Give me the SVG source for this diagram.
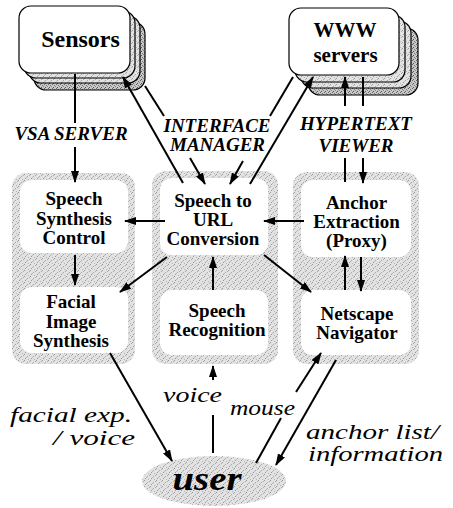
<svg xmlns="http://www.w3.org/2000/svg" width="453" height="508" viewBox="0 0 453 508">
<defs>
<pattern id="stip" width="6" height="6" patternUnits="userSpaceOnUse">
<rect width="6" height="6" fill="#e2e2e2"/>
<rect x="0" y="0" width="1" height="1" fill="#999"/>
<rect x="3" y="2" width="1" height="1" fill="#a8a8a8"/>
<rect x="1" y="4" width="1" height="1" fill="#999"/>
<rect x="4" y="5" width="1" height="1" fill="#b5b5b5"/>
<rect x="5" y="1" width="1" height="1" fill="#aaa"/>
<rect x="2" y="3" width="1" height="1" fill="#bbb"/>
</pattern>
<pattern id="stipd" width="4" height="4" patternUnits="userSpaceOnUse">
<rect width="4" height="4" fill="#c8c8c8"/>
<rect x="0" y="0" width="1" height="1" fill="#666"/>
<rect x="2" y="1" width="1" height="1" fill="#777"/>
<rect x="1" y="3" width="1" height="1" fill="#555"/>
<rect x="3" y="2" width="1" height="1" fill="#888"/>
</pattern>
<marker id="ah" markerUnits="userSpaceOnUse" markerWidth="12" markerHeight="8" refX="11" refY="4" orient="auto">
<path d="M0,0 L12,4 L0,8 Z" fill="#000"/>
</marker>
<style>
text{font-family:'Liberation Serif','Times New Roman',serif}
.node{font-weight:bold;fill:#000;text-anchor:middle}
.lab{font-weight:bold;font-style:italic;font-size:19px;fill:#000;text-anchor:middle}
.it{font-style:italic;font-size:20px;fill:#000}
.panel{fill:url(#stip)}
.box{fill:#fff}
.stk{stroke:#000;stroke-width:1.2}
.c line{stroke:#000;stroke-width:2}
</style>
</defs>
<rect width="453" height="508" fill="#fff"/>

<g id="panels">
<rect class="panel" x="12" y="173" width="123" height="191" rx="14"/>
<rect class="panel" x="152" y="171" width="126" height="193" rx="14"/>
<rect class="panel" x="293" y="172" width="126" height="192" rx="14"/>
</g>

<g id="sensors">
<rect class="stk" x="34" y="22" width="111" height="68" rx="12" fill="url(#stipd)"/>
<rect class="stk" x="29" y="16" width="111" height="67" rx="12" fill="url(#stip)"/>
<rect class="stk" x="24" y="11" width="111" height="67" rx="12" fill="url(#stip)"/>
<rect class="stk" x="19" y="6" width="111" height="67" rx="12" fill="#fff"/>
<text class="node" x="80.5" y="47" font-size="24">Sensors</text>
</g>

<g id="www">
<rect class="stk" x="308" y="28" width="110" height="67" rx="12" fill="url(#stipd)"/>
<rect class="stk" x="301" y="21" width="110" height="67" rx="12" fill="url(#stip)"/>
<rect class="stk" x="295" y="15" width="110" height="67" rx="12" fill="url(#stip)"/>
<rect class="stk" x="289" y="8" width="110" height="67" rx="12" fill="#fff"/>
<text class="node" x="345" y="37" font-size="21">WWW</text>
<text class="node" x="345.5" y="62" font-size="21">servers</text>
</g>

<g id="ssc">
<rect class="box" x="20" y="180" width="108" height="73" rx="12"/>
<text class="node" font-size="19"><tspan x="74" y="205">Speech</tspan><tspan x="74" y="224.5">Synthesis</tspan><tspan x="74" y="244">Control</tspan></text>
</g>

<g id="facial">
<rect class="box" x="20" y="287" width="108" height="66" rx="12"/>
<text class="node" font-size="19"><tspan x="71" y="308">Facial</tspan><tspan x="71" y="327.5">Image</tspan><tspan x="71" y="347">Synthesis</tspan></text>
</g>

<g id="s2url">
<rect class="box" x="160" y="178" width="108" height="77" rx="12"/>
<text class="node" font-size="19"><tspan x="213" y="207">Speech to</tspan><tspan x="213" y="226">URL</tspan><tspan x="213" y="245">Conversion</tspan></text>
</g>

<g id="sr">
<rect class="box" x="160" y="290" width="108" height="65" rx="12"/>
<text class="node" font-size="19"><tspan x="217" y="317">Speech</tspan><tspan x="217" y="336">Recognition</tspan></text>
</g>

<g id="anchor">
<rect class="box" x="301" y="180" width="110" height="77" rx="12"/>
<text class="node" font-size="19"><tspan x="356.5" y="209">Anchor</tspan><tspan x="356.5" y="228">Extraction</tspan><tspan x="356.5" y="247">(Proxy)</tspan></text>
</g>

<g id="netscape">
<rect class="box" x="301" y="290" width="110" height="65" rx="12"/>
<text class="node" font-size="19"><tspan x="357" y="320">Netscape</tspan><tspan x="357" y="339">Navigator</tspan></text>
</g>

<g id="user">
<ellipse cx="214" cy="481" rx="72" ry="25" fill="url(#stip)"/>
<text x="207" y="490" font-weight="bold" font-style="italic" font-size="34" text-anchor="middle" textLength="69" lengthAdjust="spacingAndGlyphs">user</text>
</g>

<g id="connectors" class="c">
<line x1="75" y1="74" x2="75" y2="123"/>
<line x1="75" y1="147" x2="75" y2="182" marker-end="url(#ah)"/>
<line x1="183" y1="183" x2="123" y2="77" marker-end="url(#ah)"/>
<line x1="145" y1="86" x2="164" y2="116"/>
<line x1="190" y1="158" x2="205" y2="184" marker-end="url(#ah)"/>
<line x1="293" y1="77" x2="270" y2="116"/>
<line x1="243" y1="161" x2="230" y2="184" marker-end="url(#ah)"/>
<line x1="250" y1="184" x2="313" y2="77" marker-end="url(#ah)"/>
<line x1="345" y1="182" x2="345" y2="158"/>
<line x1="345" y1="106" x2="345" y2="77" marker-end="url(#ah)"/>
<line x1="363" y1="77" x2="363" y2="106"/>
<line x1="363" y1="158" x2="363" y2="183" marker-end="url(#ah)"/>
<line x1="165" y1="221" x2="125" y2="221" marker-end="url(#ah)"/>
<line x1="75" y1="255" x2="75" y2="285" marker-end="url(#ah)"/>
<line x1="167" y1="257" x2="120" y2="292" marker-end="url(#ah)"/>
<line x1="213" y1="290" x2="213" y2="257" marker-end="url(#ah)"/>
<line x1="304" y1="221" x2="264" y2="221" marker-end="url(#ah)"/>
<line x1="264" y1="255" x2="311" y2="292" marker-end="url(#ah)"/>
<line x1="345" y1="290" x2="345" y2="256" marker-end="url(#ah)"/>
<line x1="361" y1="257" x2="361" y2="291" marker-end="url(#ah)"/>
<line x1="110" y1="353" x2="172" y2="461" marker-end="url(#ah)"/>
<line x1="213" y1="453" x2="213" y2="415"/>
<line x1="213" y1="380" x2="213" y2="366" marker-end="url(#ah)"/>
<line x1="256" y1="463" x2="281" y2="418"/>
<line x1="296" y1="392" x2="321" y2="353" marker-end="url(#ah)"/>
<line x1="336" y1="360" x2="276" y2="465" marker-end="url(#ah)"/>
</g>

<g id="labels">
<text class="lab" x="71" y="140">VSA SERVER</text>
<text class="lab" x="217" y="132">INTERFACE</text>
<text class="lab" x="217.5" y="151">MANAGER</text>
<text class="lab" x="356" y="130">HYPERTEXT</text>
<text class="lab" x="356" y="152">VIEWER</text>
<text class="it" x="10" y="422" textLength="122" lengthAdjust="spacingAndGlyphs">facial exp.</text>
<text class="it" x="53" y="445" textLength="82" lengthAdjust="spacingAndGlyphs">/ voice</text>
<text class="it" x="163" y="402" textLength="59" lengthAdjust="spacingAndGlyphs">voice</text>
<text class="it" x="230" y="415" textLength="65" lengthAdjust="spacingAndGlyphs">mouse</text>
<text class="it" x="306" y="439" textLength="133" lengthAdjust="spacingAndGlyphs">anchor list/</text>
<text class="it" x="308" y="461" textLength="135" lengthAdjust="spacingAndGlyphs">information</text>
</g>
</svg>
